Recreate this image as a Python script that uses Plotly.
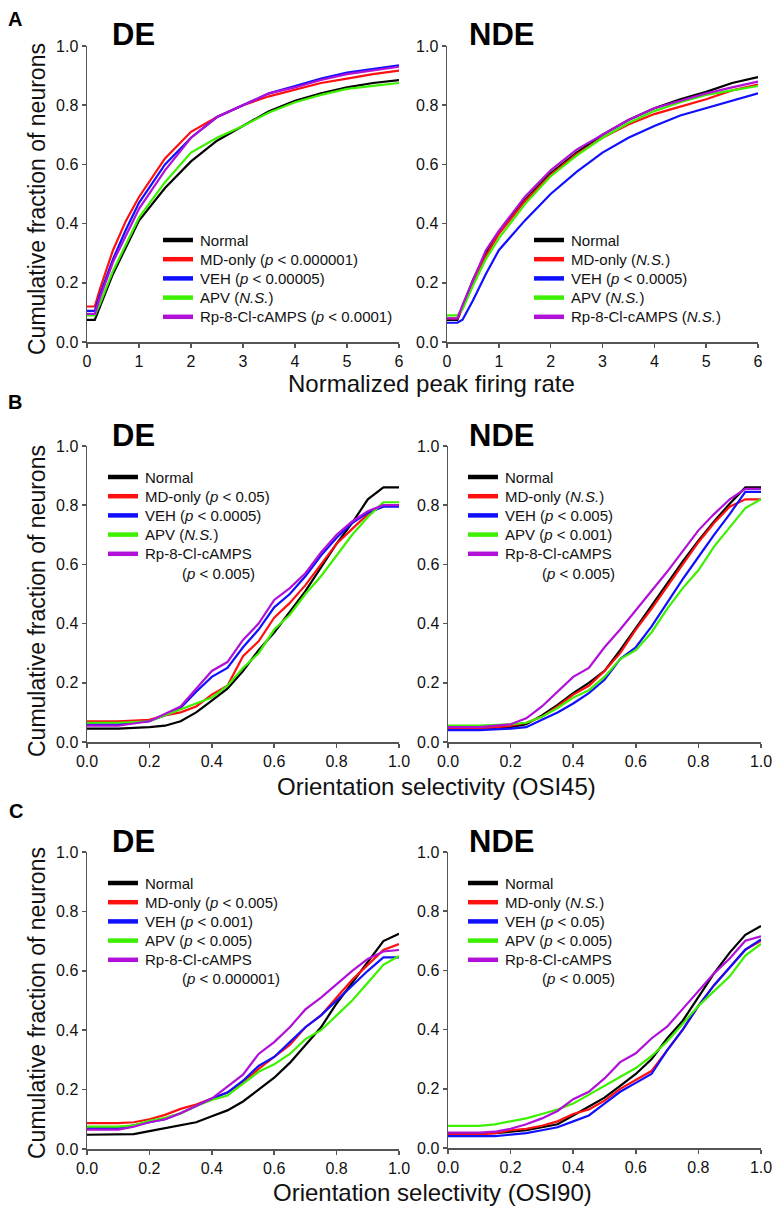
import plotly.graph_objects as go

W, H = 772, 1208
FONT = "Arial, Liberation Sans, sans-serif"

series_names = ["Normal", "MD-only", "VEH", "APV", "Rp-8-Cl-cAMPS"]
series_colors = ["#000000", "#ff1010", "#1010ff", "#3cf000", "#b010d8"]

# ---------------- Panel A : normalized peak firing rate ----------------
xA = [0, 0.15, 0.25, 0.5, 0.75, 1, 1.5, 2, 2.5, 3, 3.5, 4, 4.5, 5, 5.5, 6]
A_DE_normal = [0.075, 0.075, 0.12, 0.23, 0.32, 0.41, 0.52, 0.61, 0.68, 0.73, 0.78, 0.815, 0.84, 0.86, 0.875, 0.885]
A_DE_md     = [0.12, 0.12, 0.18, 0.31, 0.41, 0.49, 0.62, 0.71, 0.76, 0.80, 0.83, 0.853, 0.875, 0.89, 0.905, 0.917]
A_DE_veh    = [0.105, 0.105, 0.16, 0.28, 0.38, 0.47, 0.60, 0.69, 0.76, 0.80, 0.84, 0.865, 0.89, 0.91, 0.922, 0.935]
A_DE_apv    = [0.09, 0.09, 0.13, 0.24, 0.33, 0.42, 0.54, 0.64, 0.69, 0.73, 0.775, 0.81, 0.835, 0.855, 0.865, 0.875]
A_DE_rp     = [0.095, 0.095, 0.15, 0.27, 0.36, 0.45, 0.58, 0.69, 0.76, 0.80, 0.84, 0.86, 0.885, 0.905, 0.917, 0.93]

xA2 = [0, 0.2, 0.3, 0.5, 0.75, 1, 1.5, 2, 2.5, 3, 3.5, 4, 4.5, 5, 5.5, 6]
A_NDE_normal = [0.075, 0.075, 0.12, 0.21, 0.30, 0.37, 0.48, 0.57, 0.64, 0.70, 0.75, 0.79, 0.82, 0.845, 0.875, 0.895]
A_NDE_md     = [0.08, 0.08, 0.115, 0.20, 0.29, 0.365, 0.475, 0.565, 0.635, 0.69, 0.735, 0.77, 0.795, 0.82, 0.85, 0.87]
A_NDE_veh    = [0.065, 0.065, 0.075, 0.14, 0.23, 0.31, 0.41, 0.50, 0.575, 0.64, 0.69, 0.73, 0.765, 0.79, 0.815, 0.84]
A_NDE_apv    = [0.09, 0.09, 0.11, 0.19, 0.28, 0.35, 0.465, 0.56, 0.63, 0.69, 0.74, 0.78, 0.81, 0.835, 0.85, 0.865]
A_NDE_rp     = [0.08, 0.08, 0.125, 0.21, 0.31, 0.375, 0.49, 0.58, 0.65, 0.70, 0.75, 0.79, 0.815, 0.84, 0.86, 0.88]

# ---------------- Panel B : OSI45 ----------------
xB = [0, 0.1, 0.2, 0.25, 0.3, 0.35, 0.4, 0.45, 0.5, 0.55, 0.6, 0.65, 0.7, 0.75, 0.8, 0.85, 0.9, 0.95, 1.0]
B_DE_normal = [0.045, 0.045, 0.05, 0.055, 0.07, 0.10, 0.14, 0.18, 0.24, 0.31, 0.37, 0.44, 0.51, 0.59, 0.67, 0.74, 0.82, 0.86, 0.86]
B_DE_md     = [0.07, 0.07, 0.075, 0.09, 0.10, 0.12, 0.16, 0.19, 0.29, 0.34, 0.42, 0.47, 0.53, 0.60, 0.67, 0.72, 0.77, 0.80, 0.80]
B_DE_veh    = [0.06, 0.06, 0.07, 0.09, 0.115, 0.17, 0.22, 0.25, 0.32, 0.38, 0.455, 0.50, 0.56, 0.63, 0.69, 0.74, 0.775, 0.795, 0.795]
B_DE_apv    = [0.065, 0.065, 0.07, 0.09, 0.11, 0.13, 0.15, 0.19, 0.25, 0.30, 0.38, 0.43, 0.50, 0.56, 0.63, 0.70, 0.76, 0.81, 0.81]
B_DE_rp     = [0.055, 0.055, 0.07, 0.095, 0.12, 0.18, 0.24, 0.27, 0.345, 0.40, 0.48, 0.52, 0.57, 0.64, 0.70, 0.745, 0.78, 0.80, 0.80]

B_NDE_normal = [0.045, 0.045, 0.05, 0.06, 0.09, 0.125, 0.165, 0.20, 0.24, 0.31, 0.385, 0.46, 0.535, 0.61, 0.68, 0.745, 0.805, 0.86, 0.86]
B_NDE_md     = [0.045, 0.045, 0.055, 0.065, 0.085, 0.12, 0.16, 0.19, 0.24, 0.30, 0.38, 0.45, 0.525, 0.60, 0.675, 0.74, 0.795, 0.82, 0.82]
B_NDE_veh    = [0.04, 0.04, 0.045, 0.05, 0.075, 0.10, 0.13, 0.165, 0.21, 0.28, 0.32, 0.39, 0.47, 0.55, 0.625, 0.70, 0.77, 0.845, 0.845]
B_NDE_apv    = [0.055, 0.055, 0.06, 0.065, 0.085, 0.115, 0.15, 0.175, 0.22, 0.28, 0.31, 0.37, 0.45, 0.52, 0.58, 0.66, 0.725, 0.79, 0.82]
B_NDE_rp     = [0.05, 0.05, 0.06, 0.08, 0.12, 0.17, 0.22, 0.25, 0.32, 0.38, 0.445, 0.51, 0.575, 0.645, 0.715, 0.77, 0.82, 0.855, 0.855]

# ---------------- Panel C : OSI90 ----------------
xC = [0, 0.1, 0.15, 0.2, 0.25, 0.3, 0.35, 0.4, 0.45, 0.5, 0.55, 0.6, 0.65, 0.7, 0.75, 0.8, 0.85, 0.9, 0.95, 1.0]
C_DE_normal = [0.048, 0.048, 0.05, 0.06, 0.07, 0.08, 0.09, 0.11, 0.13, 0.16, 0.20, 0.24, 0.29, 0.35, 0.41, 0.49, 0.56, 0.63, 0.70, 0.725]
C_DE_md     = [0.087, 0.087, 0.09, 0.10, 0.115, 0.135, 0.15, 0.17, 0.19, 0.225, 0.27, 0.31, 0.35, 0.41, 0.45, 0.51, 0.57, 0.62, 0.67, 0.69]
C_DE_veh    = [0.07, 0.07, 0.08, 0.09, 0.10, 0.12, 0.145, 0.17, 0.19, 0.23, 0.28, 0.31, 0.36, 0.41, 0.45, 0.50, 0.55, 0.60, 0.645, 0.645]
C_DE_apv    = [0.075, 0.075, 0.08, 0.095, 0.105, 0.12, 0.145, 0.165, 0.18, 0.22, 0.26, 0.285, 0.32, 0.37, 0.40, 0.45, 0.50, 0.56, 0.62, 0.65]
C_DE_rp     = [0.065, 0.065, 0.075, 0.09, 0.10, 0.12, 0.145, 0.17, 0.21, 0.25, 0.32, 0.36, 0.41, 0.47, 0.51, 0.555, 0.60, 0.64, 0.665, 0.67]

C_NDE_normal = [0.05, 0.05, 0.05, 0.055, 0.06, 0.07, 0.08, 0.11, 0.14, 0.17, 0.21, 0.25, 0.30, 0.37, 0.43, 0.51, 0.59, 0.66, 0.72, 0.75]
C_NDE_md     = [0.045, 0.045, 0.05, 0.06, 0.065, 0.075, 0.09, 0.115, 0.13, 0.16, 0.20, 0.23, 0.26, 0.33, 0.40, 0.48, 0.55, 0.61, 0.67, 0.70]
C_NDE_veh    = [0.04, 0.04, 0.04, 0.045, 0.05, 0.06, 0.07, 0.09, 0.11, 0.15, 0.19, 0.22, 0.25, 0.33, 0.40, 0.48, 0.55, 0.61, 0.67, 0.705]
C_NDE_apv    = [0.075, 0.075, 0.08, 0.09, 0.10, 0.115, 0.13, 0.15, 0.18, 0.21, 0.24, 0.27, 0.31, 0.36, 0.42, 0.48, 0.53, 0.58, 0.65, 0.69]
C_NDE_rp     = [0.052, 0.052, 0.055, 0.065, 0.08, 0.10, 0.125, 0.165, 0.19, 0.235, 0.29, 0.32, 0.37, 0.41, 0.47, 0.53, 0.59, 0.64, 0.70, 0.715]

# tick labels
xticks_A = [0, 1, 2, 3, 4, 5, 6]
xticks_A_text = ["0", "1", "2", "3", "4", "5", "6"]
xticks_BC = [0, 0.2, 0.4, 0.6, 0.8, 1.0]
xticks_BC_text = ["0.0", "0.2", "0.4", "0.6", "0.8", "1.0"]
yticks = [0, 0.2, 0.4, 0.6, 0.8, 1.0]
yticks_text = ["0.0", "0.2", "0.4", "0.6", "0.8", "1.0"]

# legend texts
LT = "&lt;"
leg_A_DE = ["Normal", f"MD-only (<i>p</i> {LT} 0.000001)", f"VEH (<i>p</i> {LT} 0.00005)",
            "APV (<i>N.S.</i>)", f"Rp-8-Cl-cAMPS (<i>p</i> {LT} 0.0001)"]
leg_A_NDE = ["Normal", "MD-only (<i>N.S.</i>)", f"VEH (<i>p</i> {LT} 0.0005)",
             "APV (<i>N.S.</i>)", "Rp-8-Cl-cAMPS (<i>N.S.</i>)"]
leg_B_DE = ["Normal", f"MD-only (<i>p</i> {LT} 0.05)", f"VEH (<i>p</i> {LT} 0.0005)",
            "APV (<i>N.S.</i>)", "Rp-8-Cl-cAMPS", f"(<i>p</i> {LT} 0.005)"]
leg_B_NDE = ["Normal", "MD-only (<i>N.S.</i>)", f"VEH (<i>p</i> {LT} 0.005)",
             f"APV (<i>p</i> {LT} 0.001)", "Rp-8-Cl-cAMPS", f"(<i>p</i> {LT} 0.005)"]
leg_C_DE = ["Normal", f"MD-only (<i>p</i> {LT} 0.005)", f"VEH (<i>p</i> {LT} 0.001)",
            f"APV (<i>p</i> {LT} 0.005)", "Rp-8-Cl-cAMPS", f"(<i>p</i> {LT} 0.000001)"]
leg_C_NDE = ["Normal", "MD-only (<i>N.S.</i>)", f"VEH (<i>p</i> {LT} 0.05)",
             f"APV (<i>p</i> {LT} 0.005)", "Rp-8-Cl-cAMPS", f"(<i>p</i> {LT} 0.005)"]


def px(x):
    return x / W


def py(y):
    return 1 - y / H


# panel layout in page pixels: (x0, x1, ytop, ybottom)
panels = [
    dict(xs=xA, ys=[A_DE_normal, A_DE_md, A_DE_veh, A_DE_apv, A_DE_rp], box=(87, 399, 46, 342),
         xr=[0, 6], xt=(xticks_A, xticks_A_text), title="DE", leg=leg_A_DE, lpos=(163, 240)),
    dict(xs=xA2, ys=[A_NDE_normal, A_NDE_md, A_NDE_veh, A_NDE_apv, A_NDE_rp], box=(447, 758, 46, 342),
         xr=[0, 6], xt=(xticks_A, xticks_A_text), title="NDE", leg=leg_A_NDE, lpos=(534, 240)),
    dict(xs=xB, ys=[B_DE_normal, B_DE_md, B_DE_veh, B_DE_apv, B_DE_rp], box=(87, 399, 446, 742),
         xr=[0, 1], xt=(xticks_BC, xticks_BC_text), title="DE", leg=leg_B_DE, lpos=(108, 477)),
    dict(xs=xB, ys=[B_NDE_normal, B_NDE_md, B_NDE_veh, B_NDE_apv, B_NDE_rp], box=(448, 761, 446, 742),
         xr=[0, 1], xt=(xticks_BC, xticks_BC_text), title="NDE", leg=leg_B_NDE, lpos=(468, 477)),
    dict(xs=xC, ys=[C_DE_normal, C_DE_md, C_DE_veh, C_DE_apv, C_DE_rp], box=(87, 399, 852, 1149),
         xr=[0, 1], xt=(xticks_BC, xticks_BC_text), title="DE", leg=leg_C_DE, lpos=(108, 883)),
    dict(xs=xC, ys=[C_NDE_normal, C_NDE_md, C_NDE_veh, C_NDE_apv, C_NDE_rp], box=(448, 761, 852, 1148),
         xr=[0, 1], xt=(xticks_BC, xticks_BC_text), title="NDE", leg=leg_C_NDE, lpos=(468, 883)),
]
title_y = [35, 35, 436, 436, 842, 842]

fig = go.Figure()
layout = dict(width=W, height=H, margin=dict(l=0, r=0, t=0, b=0, autoexpand=False),
              autosize=False,
              paper_bgcolor="white", plot_bgcolor="white", showlegend=False,
              font=dict(family=FONT, color="#111111"))
annotations = []
shapes = []
AX = "#555555"

for i, p in enumerate(panels):
    n = i + 1
    xa = "x" if n == 1 else f"x{n}"
    ya = "y" if n == 1 else f"y{n}"
    x0, x1, yt, yb = p["box"]
    for ser, (name, col) in enumerate(zip(series_names, series_colors)):
        fig.add_trace(go.Scatter(x=p["xs"], y=p["ys"][ser], mode="lines", name=name,
                                 line=dict(color=col, width=2.2), xaxis=xa, yaxis=ya,
                                 hoverinfo="skip"))
    axcommon = dict(showline=True, linecolor=AX, linewidth=1.5, ticks="outside", ticklen=4,
                    tickwidth=1.5, tickcolor=AX, showgrid=False, zeroline=False,
                    automargin=False, ticklabeloverflow="allow",
                    tickfont=dict(size=16, color="#111111", family=FONT))
    layout["xaxis" if n == 1 else f"xaxis{n}"] = dict(
        domain=[px(x0), px(x1)], range=p["xr"], anchor=ya,
        tickvals=p["xt"][0], ticktext=p["xt"][1], **axcommon)
    layout["yaxis" if n == 1 else f"yaxis{n}"] = dict(
        domain=[py(yb), py(yt)], range=[0, 1], anchor=xa,
        tickvals=yticks, ticktext=yticks_text, **axcommon)
    # panel title DE / NDE
    tx = 110 if p["title"] == "DE" else 467
    annotations.append(dict(x=px(tx), y=py(title_y[i]), xref="paper", yref="paper",
                            text=f"<b>{p['title']}</b>", showarrow=False,
                            xanchor="left", yanchor="middle",
                            font=dict(size=31, family=FONT, color="#000000")))
    # legend (swatch + text)
    lx, ly = p["lpos"]
    rowh = 19.2
    for r, txt in enumerate(p["leg"]):
        yc = ly + r * rowh
        if r < 5:
            shapes.append(dict(type="line", xref="paper", yref="paper",
                               x0=px(lx), x1=px(lx + 30), y0=py(yc), y1=py(yc),
                               line=dict(color=series_colors[r], width=4.5)))
            tx_left = lx + 35
        else:
            tx_left = lx + 72
        annotations.append(dict(x=px(tx_left), y=py(yc), xref="paper", yref="paper",
                                text=txt, showarrow=False, xanchor="left", yanchor="middle",
                                font=dict(size=15, family=FONT, color="#111111")))

# panel letters
for letter, (lx, ly) in zip(["A", "B", "C"], [(15, 19), (15, 402), (16, 811)]):
    annotations.append(dict(x=px(lx), y=py(ly), xref="paper", yref="paper",
                            text=f"<b>{letter}</b>", showarrow=False,
                            xanchor="center", yanchor="middle",
                            font=dict(size=20, family=FONT, color="#000000")))

# y-axis titles
for yc in [199, 601, 1003]:
    annotations.append(dict(x=px(37), y=py(yc), xref="paper", yref="paper",
                            text="Cumulative fraction of neurons", textangle=-90,
                            showarrow=False, xanchor="center", yanchor="middle",
                            font=dict(size=23, family=FONT, color="#111111")))

# x-axis titles
for txt, (xc, yc) in zip(["Normalized peak firing rate", "Orientation selectivity (OSI45)",
                          "Orientation selectivity (OSI90)"],
                         [(431, 383), (436, 786), (432, 1192)]):
    annotations.append(dict(x=px(xc), y=py(yc), xref="paper", yref="paper",
                            text=txt, showarrow=False, xanchor="center", yanchor="middle",
                            font=dict(size=24, family=FONT, color="#111111")))

layout["annotations"] = annotations
layout["shapes"] = shapes
fig.update_layout(**layout)
fig.write_html(
    "out.html",
    config={"displayModeBar": False, "staticPlot": True},
    post_script=("document.body.style.margin='0';document.body.style.padding='0';"
                 "document.documentElement.style.overflow='hidden';"
                 "document.body.style.overflow='hidden';"),
)
